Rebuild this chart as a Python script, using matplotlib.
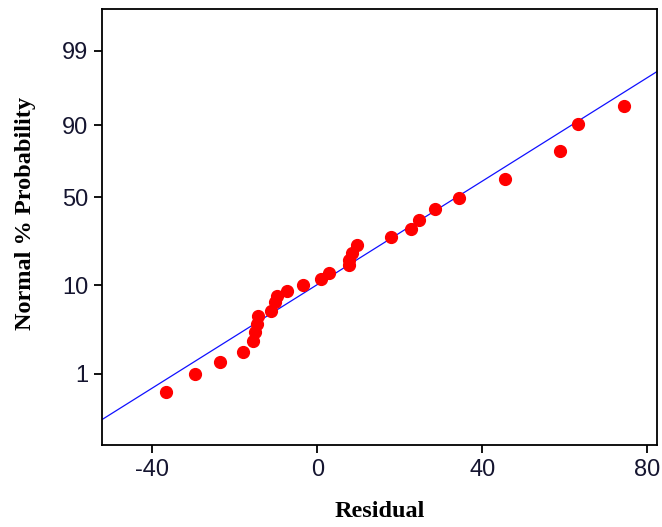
import numpy as np
import matplotlib
matplotlib.use("Agg")
import matplotlib.pyplot as plt
from statistics import NormalDist

# residuals, with their normal % probability
residual = [-36.6, -29.6, -23.5, -17.9, -15.5, -15.1, -14.6, -14.3, -11.1, -10.2,
            -9.8, -7.4, -3.4, 0.8, 2.8, 7.7, 7.8, 8.5, 9.7, 18.0,
            22.8, 24.6, 28.6, 34.4, 45.6, 58.8, 63.1, 74.3]
prob_pct = [0.55, 1.0, 1.43, 1.93, 2.63, 3.30, 4.08, 5.02, 5.68, 6.97,
            7.91, 8.92, 10.1, 11.6, 13.4, 16.1, 18.1, 20.7, 24.4, 28.2,
            32.2, 37.0, 43.1, 49.8, 62.4, 79.4, 90.4, 94.0]

# reference line
fit_resid = [-52.2, 82.3]
fit_pct = [0.205, 97.89]

ytick_pct = [1, 10, 50, 90, 99]
xtick_vals = [-40, 0, 40, 80]

plt.rcParams["axes.unicode_minus"] = False

# probability axis, piecewise in z like the original software draws it
nd = NormalDist()
ppf = np.vectorize(nd.inv_cdf, otypes=[float])
cdf = np.vectorize(nd.cdf, otypes=[float])
z_t = [nd.inv_cdf(p / 100) for p in ytick_pct]
pos_t = [0.1645, 0.3672, 0.5692, 0.7346, 0.9053]
lo_slope = (pos_t[1] - pos_t[0]) / (z_t[1] - z_t[0])
hi_slope = (pos_t[-1] - pos_t[-2]) / (z_t[-1] - z_t[-2])
Z_EXT = [-12.0] + z_t + [12.0]
P_EXT = [pos_t[0] - (z_t[0] + 12) * lo_slope] + pos_t + [pos_t[-1] + (12 - z_t[-1]) * hi_slope]


def forward(p):
    p = np.clip(np.asarray(p, dtype=float) / 100.0, 1e-12, 1 - 1e-12)
    return np.interp(ppf(p), Z_EXT, P_EXT)


def inverse(t):
    t = np.asarray(t, dtype=float)
    return 100.0 * cdf(np.interp(t, P_EXT, Z_EXT))


fig = plt.figure(figsize=(6.62, 5.27), dpi=100)
ax = fig.add_axes([0.154, 0.155, 0.838, 0.827])
ax.set_yscale("function", functions=(forward, inverse))

ax.plot(fit_resid, fit_pct, color="#1010ff", lw=0.9, zorder=2)
ax.plot(residual, prob_pct, "o", color="#ff0000", ms=8.5, mec="#ff0000", zorder=3)

ax.set_xlim(-52.2, 82.3)
ax.set_ylim(float(inverse(0.0)), float(inverse(1.0)))
ax.set_xticks(xtick_vals)
ax.set_yticks(ytick_pct)
ax.set_yticklabels([str(v) for v in ytick_pct])
ax.minorticks_off()

ax.tick_params(direction="out", length=6, width=1.3, labelsize=17, pad=4,
               labelcolor="#151530")
for lab in ax.get_xticklabels() + ax.get_yticklabels():
    lab.set_family("Liberation Sans")
for s in ax.spines.values():
    s.set_linewidth(1.3)

ax.set_xlabel("Residual", family="Liberation Serif", weight="bold", fontsize=17.5, labelpad=14)
ax.set_ylabel("Normal % Probability", family="Liberation Serif", weight="bold", fontsize=17.5)
ax.yaxis.set_label_coords(-0.118, 0.532)

fig.savefig("out.png", dpi=100)
